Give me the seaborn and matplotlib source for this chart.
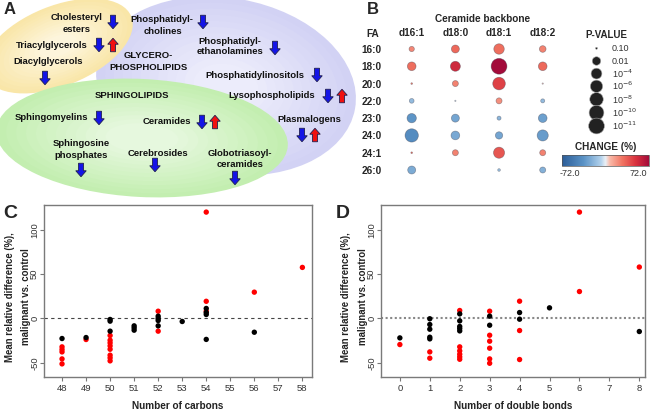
import numpy as np
import pandas as pd
import matplotlib
matplotlib.use("Agg")
import matplotlib.pyplot as plt
import seaborn as sns
from matplotlib.patches import Ellipse, Polygon
from matplotlib.colors import LinearSegmentedColormap, Normalize, to_rgb
from matplotlib.cm import ScalarMappable

# ---------------- data ----------------
# Panel B: ceramide species (rows = fatty acid, columns = backbone)
fa_labels = ["16:0", "18:0", "20:0", "22:0", "23:0", "24:0", "24:1", "26:0"]
backbones = ["d16:1", "d18:0", "d18:1", "d18:2"]
change_d16_1 = [22, 30, 25, -18, -35, -40, 30, -25]
change_d18_0 = [32, 55, 24, -3, -28, -26, 24, np.nan]
change_d18_1 = [30, 72, 45, 20, -20, -28, 38, -15]
change_d18_2 = [24, 32, 5, -18, -30, -32, 24, -22]
nlogp_d16_1 = [1.51, 2.17, 0.96, 1.42, 2.7, 7.7, 0.96, 1.92]
nlogp_d18_0 = [1.92, 3.3, 1.62, 0.91, 1.92, 2.17, 1.62, np.nan]
nlogp_d18_1 = [3.7, 11.0, 6.5, 1.62, 1.31, 1.82, 4.4, 1.1]
nlogp_d18_2 = [1.72, 2.17, 0.91, 1.31, 2.17, 4.4, 1.62, 1.62]
pval_legend_nlogp = [1, 2, 4, 6, 8, 10, 11]
pval_legend_labels = ["0.10", "0.01", r"10$^{-4}$", r"10$^{-6}$", r"10$^{-8}$", r"10$^{-10}$", r"10$^{-11}$"]
change_range = (-72.0, 72.0)

# Panel C: number of carbons
carbons = [48, 48, 48, 48, 48, 49, 50, 50, 50, 50, 50, 50, 50, 50, 52, 52, 54, 54, 54, 56, 58,
           48, 49, 50, 50, 50, 51, 51, 51, 52, 52, 52, 52, 53, 54, 54, 54, 54, 56]
diff_carbons = [-32, -35, -37.7, -45.6, -51.2, -23.7, -19.2, -24.5, -27.5, -30.9, -34.7, -41.4, -44.4, -47.8,
                8.2, -14.3, 120, 19.4, 8.2, 29.7, 57.6,
                -22.6, -21.5, -1.1, -3.0, -14.3, -8.3, -10.6, -13.2, 2.6, 0, -2.3, -8.3, -3.4,
                11.3, 6.7, 4.5, -23.6, -15.5]
group_carbons = ["red"] * 21 + ["black"] * 18

# Panel D: number of double bonds
dbonds = [0, 1, 1, 2, 2, 2, 2, 2, 2, 3, 3, 3, 3, 3, 3, 4, 4, 4, 6, 6, 8,
          0, 1, 1, 1, 1, 1, 2, 2, 2, 2, 2, 3, 3, 4, 4, 5, 8]
diff_dbonds = [-29.4, -37.7, -44.8, 9.0, -32, -36.5, -40.3, -43.3, -46, 8.2, -18.9, -25.6, -33.5, -45.6, -50.5,
               19.5, -13.6, -46.3, 120, 30.4, 58,
               -21.9, -0.3, -6.8, -12.1, -21.1, -23, 5.2, -2.7, -9, -11.3, -14, 2.6, -7.6,
               6.7, -0.8, 12, -14.7]
group_dbonds = ["red"] * 21 + ["black"] * 17

# ---------------- style ----------------
sns.set_theme(style="white")
plt.rcParams['font.family'] = ['Liberation Sans', 'DejaVu Sans']
plt.rcParams['axes.facecolor'] = 'white'

W, H = 650, 413
fig = plt.figure(figsize=(6.5, 4.13), dpi=100)


def px_axes(x0, y0, x1, y1):
    return fig.add_axes([x0 / W, 1 - y1 / H, (x1 - x0) / W, (y1 - y0) / H])


def ftext(x, y, s, **kw):
    kw.setdefault('ha', 'center')
    kw.setdefault('va', 'center')
    fig.text(x / W, 1 - y / H, s, **kw)


# ---------------- Panel A ----------------
axA = px_axes(0, 0, 360, 200)
axA.set_xlim(0, 360)
axA.set_ylim(200, 0)
axA.axis('off')


def soft_ellipse(ax, cx, cy, w, h, ang, outer, inner, n=12):
    c0 = np.array(to_rgb(outer))
    c1 = np.array(to_rgb(inner))
    for i in range(n):
        f = i / (n - 1)
        s = 1 - 0.75 * f
        ax.add_patch(Ellipse((cx, cy), w * s, h * s, angle=ang,
                             facecolor=c0 * (1 - f) + c1 * f, lw=0))


soft_ellipse(axA, 226, 86, 262, 176, 10, "#d2d2f4", "#ececfb")
soft_ellipse(axA, 58, 46, 158, 80, -22, "#f9e6a8", "#fdf5dc")
soft_ellipse(axA, 142, 138, 292, 118, 3, "#c3eeb0", "#e6f8de")


def block_arrow(ax, cx, cy, up, color):
    w, sw, h, hl = 10.5, 5.0, 13.5, 6.0
    pts = [(-sw / 2, -h / 2), (sw / 2, -h / 2), (sw / 2, h / 2 - hl), (w / 2, h / 2 - hl),
           (0, h / 2), (-w / 2, h / 2 - hl), (-sw / 2, h / 2 - hl)]
    sgn = -1 if up else 1
    pts = [(cx + px, cy + sgn * py) for px, py in pts]
    ax.add_patch(Polygon(pts, closed=True, facecolor=color, edgecolor="#202050", lw=0.6))


BLUE, RED = "#1414e6", "#f01010"
fsA = 6.8
labelsA = [
    ("Cholesteryl", 77, 18), ("esters", 77, 30),
    ("Triacylglycerols", 52, 45), ("Diacylglycerols", 48, 62),
    ("Phosphatidyl-", 162, 19), ("cholines", 163, 32),
    ("Phosphatidyl-", 230, 41), ("ethanolamines", 230, 52),
    ("Phosphatidylinositols", 255, 75), ("Lysophospholipids", 272, 96),
    ("Plasmalogens", 309, 119),
    ("Sphingomyelins", 51, 118), ("Ceramides", 167, 122),
    ("Sphingosine", 81, 144), ("phosphates", 81, 155),
    ("Cerebrosides", 158, 153),
    ("Globotriasoyl-", 240, 153), ("ceramides", 240, 165),
    ("GLYCERO-", 148, 55), ("PHOSPHOLIPIDS", 148, 68), ("SPHINGOLIPIDS", 132, 96),
]
for s, x, y in labelsA:
    axA.text(x, y, s, ha='center', va='center', fontsize=fsA, fontweight='bold', color='#111')

for x, y in [(113, 22), (99, 45), (45, 78), (203, 22), (275, 48), (317, 75), (328, 96),
             (302, 135), (99, 118), (202, 122), (81, 170), (155, 165), (235, 178)]:
    block_arrow(axA, x, y, False, BLUE)
for x, y in [(113, 45), (342, 96), (315, 135), (215, 122)]:
    block_arrow(axA, x, y, True, RED)

ftext(10, 10, "A", fontsize=12, fontweight='bold')

# ---------------- Panel B ----------------
cmap = LinearSegmentedColormap.from_list("chg", [
    (0.0, "#2c5d98"), (0.25, "#5b93c6"), (0.45, "#b3d2ec"), (0.5, "#e9eef4"),
    (0.55, "#f9b9a8"), (0.7, "#f07260"), (0.85, "#d9323e"), (1.0, "#a30b3a")])

anchor_nlp = [0.9, 1, 2, 4, 6, 8, 10, 11]
anchor_px = [1.2, 2.0, 8.5, 10.8, 12.3, 13.5, 14.8, 15.8]


def area_pt2(nlp):
    d = np.interp(nlp, anchor_nlp, anchor_px) * 0.72
    return d ** 2


rows = []
for bb, chg, nlp in zip(backbones,
                        [change_d16_1, change_d18_0, change_d18_1, change_d18_2],
                        [nlogp_d16_1, nlogp_d18_0, nlogp_d18_1, nlogp_d18_2]):
    for fa, c, p in zip(fa_labels, chg, nlp):
        rows.append(dict(backbone=bb, fa=fa, change=c, nlogp=p))
dfB = pd.DataFrame(rows).dropna()
dfB["backbone"] = pd.Categorical(dfB["backbone"], categories=backbones)
dfB["fa"] = pd.Categorical(dfB["fa"], categories=fa_labels)
dfB = dfB.sort_values(["fa", "backbone"])
dfB["xi"] = dfB["backbone"].cat.codes
dfB["yi"] = dfB["fa"].cat.codes
dfB["area"] = area_pt2(dfB["nlogp"].values)
amin, amax = dfB["area"].min(), dfB["area"].max()

dx = 43.67
dy = 17.29
axB = px_axes(411.7 - dx / 2, 49 - dy / 2, 411.7 + 3.5 * dx, 170 + dy / 2)
sns.scatterplot(data=dfB, x="xi", y="yi", hue="change", palette=cmap, hue_norm=change_range,
                size="area", sizes=(amin, amax), size_norm=(amin, amax),
                edgecolor=(0.25, 0.25, 0.3, 0.45), linewidth=0.5, legend=False, ax=axB)
axB.set_xlim(-0.5, 3.5)
axB.set_ylim(7.5, -0.5)
axB.set_xticks(range(len(backbones)))
axB.set_xticklabels(backbones, fontsize=7.2, fontweight='bold')
axB.set_yticks(range(len(fa_labels)))
axB.set_yticklabels(fa_labels, fontsize=7.2, fontweight='bold')
axB.xaxis.tick_top()
axB.tick_params(axis='x', length=0, pad=1.5)
axB.tick_params(axis='y', length=0, pad=6)
axB.set_xlabel("")
axB.set_ylabel("")
for sp in axB.spines.values():
    sp.set_visible(False)
axB.set_facecolor('none')

ftext(373, 34, "FA", fontsize=7.2, fontweight='bold')
ftext(483, 19, "Ceramide backbone", fontsize=7.2, fontweight='bold')
ftext(373, 9, "B", fontsize=12, fontweight='bold')

# P-value legend
axL = px_axes(560, 25, 650, 140)
axL.set_xlim(560, 650)
axL.set_ylim(140, 25)
axL.axis('off')
leg_y = [48.3, 61, 73.6, 86.3, 99.3, 112.7, 126]
axL.scatter([596.5] * len(leg_y), leg_y, s=area_pt2(np.array(pval_legend_nlogp)),
            color="#222222", edgecolor="#aaaaaa", linewidth=0.4, zorder=3)
for yv, lab in zip(leg_y, pval_legend_labels):
    axL.text(612, yv, lab, ha='left', va='center', fontsize=6.5, color='#333')
ftext(606, 35, "P-VALUE", fontsize=7, fontweight='bold')

# Colorbar
ftext(606, 147, "CHANGE (%)", fontsize=7.2, fontweight='bold')
cax = px_axes(562, 155, 649, 166)
cb = fig.colorbar(ScalarMappable(norm=Normalize(*change_range), cmap=cmap), cax=cax,
                  orientation='horizontal')
cb.set_ticks([])
cb.outline.set_linewidth(0.5)
cb.outline.set_edgecolor('#555')
ftext(570, 174, "-72.0", fontsize=6.5, color='#333')
ftext(638, 174, "72.0", fontsize=6.5, color='#333')

# ---------------- Panels C & D ----------------
palette = {"red": "#ff0000", "black": "#000000"}


def scatter_panel(ax, x, y, g, xticks, xlim, dash_style):
    df = pd.DataFrame(dict(x=x, y=y, g=g))
    df["order"] = (df["g"] == "black").astype(int)
    df = df.sort_values("order", kind="stable")
    ax.axhline(0, **dash_style, zorder=1)
    sns.scatterplot(data=df, x="x", y="y", hue="g", palette=palette, s=15, linewidth=0,
                    legend=False, ax=ax, zorder=3)
    ax.set_xlim(*xlim)
    ax.set_ylim(-66, 128)
    ax.set_xticks(xticks)
    ax.set_xticklabels([str(t) for t in xticks])
    ax.set_yticks([-50, 0, 50, 100])
    ax.set_yticklabels(["-50", "0", "50", "100"], rotation=90, va='center')
    ax.tick_params(axis='both', direction='out', length=3, width=0.8, color='#777',
                   labelsize=6.8, labelcolor='#333', bottom=True, left=True)
    ax.tick_params(axis='x', pad=2)
    ax.tick_params(axis='y', pad=0.5)
    ax.set_xlabel("")
    ax.set_ylabel("")
    for sp in ax.spines.values():
        sp.set_visible(True)
        sp.set_color('#7a7a7a')
        sp.set_linewidth(1.0)


axC = px_axes(44, 205, 312, 377)
scatter_panel(axC, carbons, diff_carbons, group_carbons, list(range(48, 59)), (47.25, 58.4),
              dict(color="#444", lw=0.8, ls=(0, (3, 3))))
ftext(178, 406, "Number of carbons", fontsize=7.2, fontweight='bold', color='#222')
ftext(10, 297, "Mean relative difference (%),", fontsize=6.9, fontweight='bold', rotation=90, color='#222')
ftext(26, 297, "malignant vs. control", fontsize=6.9, fontweight='bold', rotation=90, color='#222')
ftext(10, 214, "C", fontsize=14, fontweight='bold')

axD = px_axes(381, 205, 645, 377)
scatter_panel(axD, dbonds, diff_dbonds, group_dbonds, list(range(0, 9)), (-0.63, 8.19),
              dict(color="#888", lw=1.5, ls=(0, (1, 1.2))))
ftext(513, 406, "Number of double bonds", fontsize=7.2, fontweight='bold', color='#222')
ftext(346, 297, "Mean relative difference (%),", fontsize=6.9, fontweight='bold', rotation=90, color='#222')
ftext(363, 297, "malignant vs. control", fontsize=6.9, fontweight='bold', rotation=90, color='#222')
ftext(343, 214, "D", fontsize=14, fontweight='bold')

fig.savefig("out.png", dpi=100)
